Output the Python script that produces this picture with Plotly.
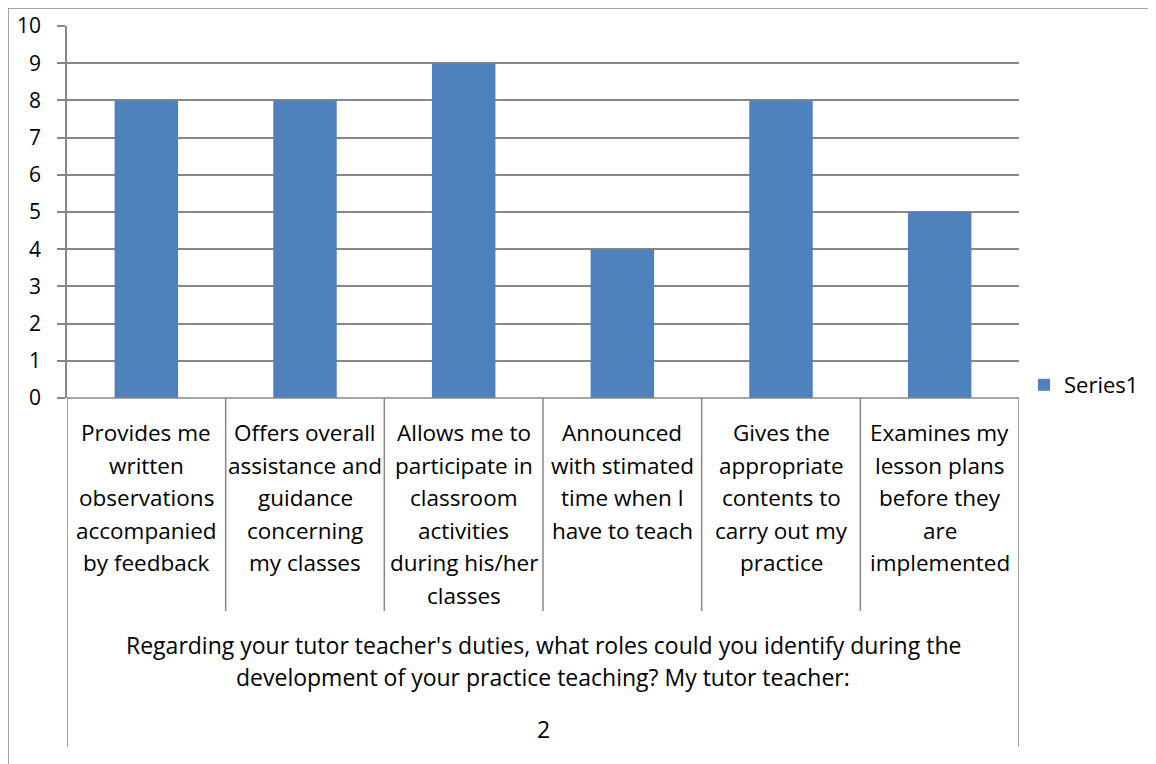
import plotly.graph_objects as go

categories = [
    ["Provides me", "written", "observations", "accompanied", "by feedback"],
    ["Offers overall", "assistance and", "guidance", "concerning", "my classes"],
    ["Allows me to", "participate in", "classroom", "activities", "during his/her", "classes"],
    ["Announced", "with stimated", "time when I", "have to teach"],
    ["Gives the", "appropriate", "contents to", "carry out my", "practice"],
    ["Examines my", "lesson plans", "before they", "are", "implemented"],
]
values = [8, 8, 9, 4, 8, 5]
group_title = [
    "Regarding your tutor teacher's duties, what roles could you identify during the",
    "development of your practice teaching? My tutor teacher:",
]
group_label = "2"
series_name = "Series1"
y_ticks = list(range(0, 11))

# page body has an 8px margin; compensate so the chart lands where the reference has it
OFF = 8
W, H = 1156 - OFF, 764 - OFF
L, R, T, B = 67, 1019, 26, 398
ph = B - T
pw = R - L
FONT = "Open Sans"
FS = 23
FS_TICK = 21
GRID = "#878787"
BAR = "#4F81BD"

def py(p):
    return (B - p) / ph

def px(p):
    return (p - L) / pw

xs = list(range(len(values)))
fig = go.Figure()
fig.add_trace(go.Bar(x=xs, y=values, name=series_name, marker=dict(color=BAR, line=dict(width=0)),
                     width=0.4, showlegend=True))

fig.update_layout(
    width=W, height=H,
    margin=dict(l=L - OFF, r=1156 - R, t=T - OFF, b=764 - B, pad=0, autoexpand=False),
    paper_bgcolor="white", plot_bgcolor="white",
    font=dict(family=FONT, size=FS, color="black"),
    showlegend=True,
    legend=dict(x=px(1024), y=py(385), xanchor="left", yanchor="middle",
                font=dict(family=FONT, size=FS - 1), itemwidth=30, bgcolor="rgba(0,0,0,0)"),
    xaxis=dict(range=[-0.5, len(values) - 0.5], showticklabels=False, showgrid=False,
               zeroline=False, showline=False, ticks="", automargin=False),
    yaxis=dict(range=[0, 10], tickvals=y_ticks, showgrid=True, gridcolor=GRID, gridwidth=1.5,
               zeroline=False, showline=True, linecolor=GRID, linewidth=1.5,
               ticks="outside", ticklen=8, tickcolor=GRID, tickwidth=1.5, automargin=False,
               tickfont=dict(family=FONT, size=FS_TICK), ticklabelstandoff=12),
)

shapes = []
shapes.append(dict(type="line", xref="x", yref="paper", x0=-0.5, x1=len(values) - 0.5, y0=0, y1=0,
                   line=dict(color=GRID, width=1.5)))
for i in range(len(values) + 1):
    xb = i - 0.5
    bottom = py(611) if 0 < i < len(values) else py(747)
    shapes.append(dict(type="line", xref="x", yref="paper", x0=xb, x1=xb, y0=0, y1=bottom,
                       line=dict(color=GRID, width=1.5)))
shapes.append(dict(type="line", xref="paper", yref="paper", x0=px(8), x1=px(1170), y0=py(8), y1=py(8),
                   line=dict(color=GRID, width=1.5)))
shapes.append(dict(type="line", xref="paper", yref="paper", x0=px(8), x1=px(8), y0=py(8), y1=py(780),
                   line=dict(color=GRID, width=1.5)))
fig.update_layout(shapes=shapes)

anns = []
line_h = 32.4
for i, lines in enumerate(categories):
    for j, t in enumerate(lines):
        anns.append(dict(x=i, xref="x", y=py(433 + j * line_h), yref="paper", text=t, showarrow=False,
                         xanchor="center", yanchor="middle", font=dict(family=FONT, size=FS - 0.5)))
mid = (len(values) - 1) / 2
for j, t in enumerate(group_title):
    anns.append(dict(x=mid, xref="x", y=py(645 + j * line_h), yref="paper", text=t, showarrow=False,
                     xanchor="center", yanchor="middle", font=dict(family=FONT, size=FS)))
anns.append(dict(x=mid, xref="x", y=py(729), yref="paper", text=group_label, showarrow=False,
                 xanchor="center", yanchor="middle", font=dict(family=FONT, size=FS)))
fig.update_layout(annotations=anns)

fig.write_html("out.html")
